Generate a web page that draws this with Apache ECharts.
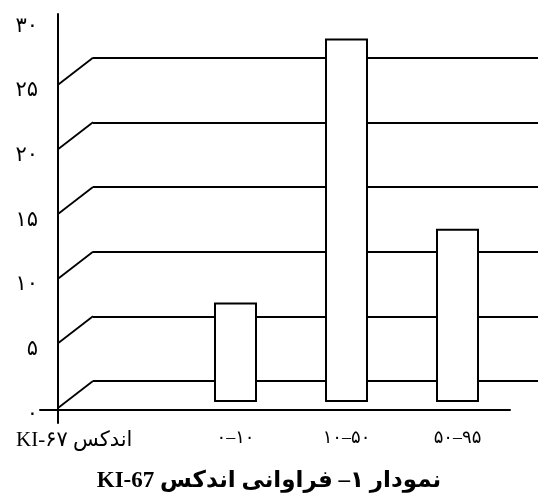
<!DOCTYPE html>
<html>
<head>
<meta charset="utf-8">
<script src="https://cdn.jsdelivr.net/npm/echarts@6/dist/echarts.min.js"></script>
<style>
html,body{margin:0;padding:0;background:#fff;}
#c{width:538px;height:502px;}
</style>
</head>
<body>
<div id="c"></div>
<script>
// ---- data ----
const categories = ['۰–۱۰', '۱۰–۵۰', '۵۰–۹۵'];
const values = [7.7, 28.1, 13.4];
const yTickValues = [0, 5, 10, 15, 20, 25, 30];
const yTickLabels = ['۰', '۵', '۱۰', '۱۵', '۲۰', '۲۵', '۳۰'];
const wallLevels = [0, 5, 10, 15, 20, 25];
const axisTitle = 'KI-۶۷ اندکس';
const chartTitle = 'نمودار ۱– فراوانی اندکس KI-67';

// ---- layout / style ----
const DX = 35, DY = 27;           // depth offset of the back wall
const FRONT = {left: 58, top: 20, bottom: 94};
const UNIT = (502 - FRONT.top - FRONT.bottom) / 30;
const BACK = {left: FRONT.left + DX, right: 0,
  bottom: FRONT.bottom + DY,
  top: 502 - (FRONT.bottom + DY) - 25 * UNIT};
const FONT = "'Liberation Serif', 'DejaVu Sans', serif";
const LRM = '\u200E';

const chart = echarts.init(document.getElementById('c'), null, {renderer: 'canvas'});
chart.setOption({
  backgroundColor: '#fff',
  animation: false,
  title: [
    {text: '\u202B' + chartTitle + '\u202C', left: 'center', top: 465,
     textStyle: {fontFamily: FONT, fontSize: 23, fontWeight: 'bold', color: '#000'}},
    {text: axisTitle, left: 11, top: 425,
     textStyle: {fontFamily: FONT, fontSize: 21, fontWeight: 'normal', color: '#000'}}
  ],
  grid: [
    {left: 180, right: 25, top: 402 - 30 * UNIT, bottom: 100},
    {left: FRONT.left, right: 80, top: FRONT.top, bottom: FRONT.bottom},
    {left: BACK.left, right: BACK.right, top: BACK.top, bottom: BACK.bottom},
    {left: FRONT.left, width: 10, top: 14, bottom: 79},
    {left: 40, right: 28, top: 300, bottom: 92}
  ],
  xAxis: [
    {gridIndex: 0, type: 'category', data: categories,
     axisLine: {show: false}, axisTick: {show: false}, splitLine: {show: false},
     axisLabel: {margin: 27, fontSize: 18, color: '#000', fontFamily: FONT,
       formatter: v => LRM + v.replace('–', LRM + '–' + LRM) + LRM}},
    {gridIndex: 1, type: 'value', min: 0, max: 1, show: false},
    {gridIndex: 2, type: 'value', min: 0, max: 1, show: false},
    {gridIndex: 3, type: 'value', min: 0, max: 1, show: false},
    {gridIndex: 4, type: 'value', min: 0, max: 1,
     axisLine: {show: true, lineStyle: {color: '#000', width: 2}},
     axisTick: {show: false}, axisLabel: {show: false}, splitLine: {show: false}}
  ],
  yAxis: [
    {gridIndex: 0, type: 'value', min: 0, max: 30, show: false},
    {gridIndex: 1, type: 'value', min: 0, max: 30, interval: 5,
     axisLine: {show: false}, axisTick: {show: false}, splitLine: {show: false},
     axisLabel: {margin: 20, fontSize: 21, color: '#000', fontFamily: FONT,
       verticalAlign: 'top', lineHeight: 12,
       formatter: v => yTickLabels[yTickValues.indexOf(v)]}},
    {gridIndex: 2, type: 'value', min: 0, max: 25, interval: 5,
     axisLine: {show: false}, axisTick: {show: false}, axisLabel: {show: false},
     splitLine: {show: true, lineStyle: {color: '#000', width: 1.8}}},
    {gridIndex: 3, type: 'value', min: 0, max: 1,
     axisLine: {show: true, lineStyle: {color: '#000', width: 2}},
     axisTick: {show: false}, axisLabel: {show: false}, splitLine: {show: false}},
    {gridIndex: 4, type: 'value', min: 0, max: 1, show: false}
  ],
  series: [
    {type: 'custom', xAxisIndex: 1, yAxisIndex: 1, silent: true, z: 1,
     data: wallLevels.map(v => [0, v]),
     renderItem: function (params, api) {
       const p = api.coord([api.value(0), api.value(1)]);
       return {type: 'line',
         shape: {x1: p[0], y1: p[1], x2: p[0] + DX, y2: p[1] - DY},
         style: {stroke: '#000', lineWidth: 1.8}};
     }},
    {type: 'bar', xAxisIndex: 0, yAxisIndex: 0, data: values, barWidth: 43, z: 5,
     itemStyle: {color: '#fff', borderColor: '#000', borderWidth: 2}}
  ]
});
</script>
</body>
</html>
